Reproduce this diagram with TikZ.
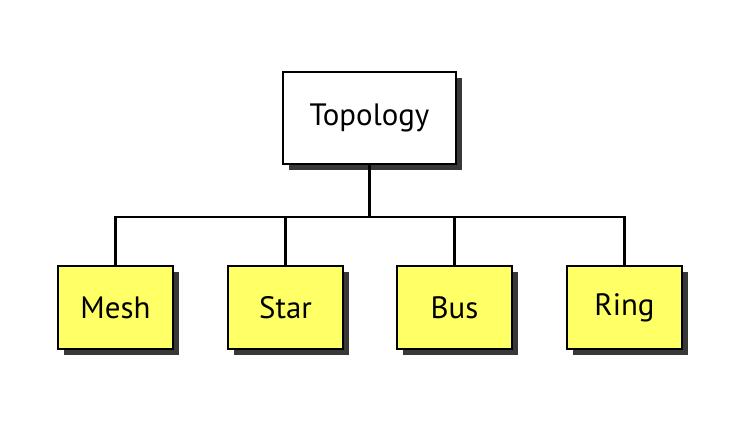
\documentclass[tikz,border=0pt]{standalone}
\usepackage{fontspec}
\setmainfont{PT Sans}
\usetikzlibrary{shadows}
\definecolor{boxyellow}{RGB}{255,255,102}
\tikzset{
  box/.style={draw,line width=1.8bp,minimum width=115bp,minimum height=83bp,
    font=\fontsize{31}{33}\selectfont,
    drop shadow={shadow xshift=6bp,shadow yshift=-6bp,opacity=1,fill=black!78}},
  leaf/.style={box,fill=boxyellow},
  link/.style={line width=2.6bp},
}

\begin{document}
\begin{tikzpicture}[x=1bp,y=-1bp]
    \useasboundingbox (0,0) rectangle (750,424);
    \node[box,fill=white,minimum width=173bp,minimum height=92bp] (topo) at (369.5,118) {Topology};
    \foreach \name/\txt/\x in {mesh/Mesh/115.5,star/Star/285.5,bus/Bus/454.5,ring/Ring/624.5}
      \node[leaf] (\name) at (\x,307.5) {\txt};
    \coordinate (bar) at (369.5,217);
    \begin{scope}[link]
      \draw (topo.south) -- (topo.south |- bar);
      \draw (mesh.north) -- (mesh.north |- bar) -- (ring.north |- bar) -- (ring.north);
      \draw (star.north) -- (star.north |- bar);
      \draw (bus.north) -- (bus.north |- bar);
    \end{scope}
  \end{tikzpicture}
\end{document}
